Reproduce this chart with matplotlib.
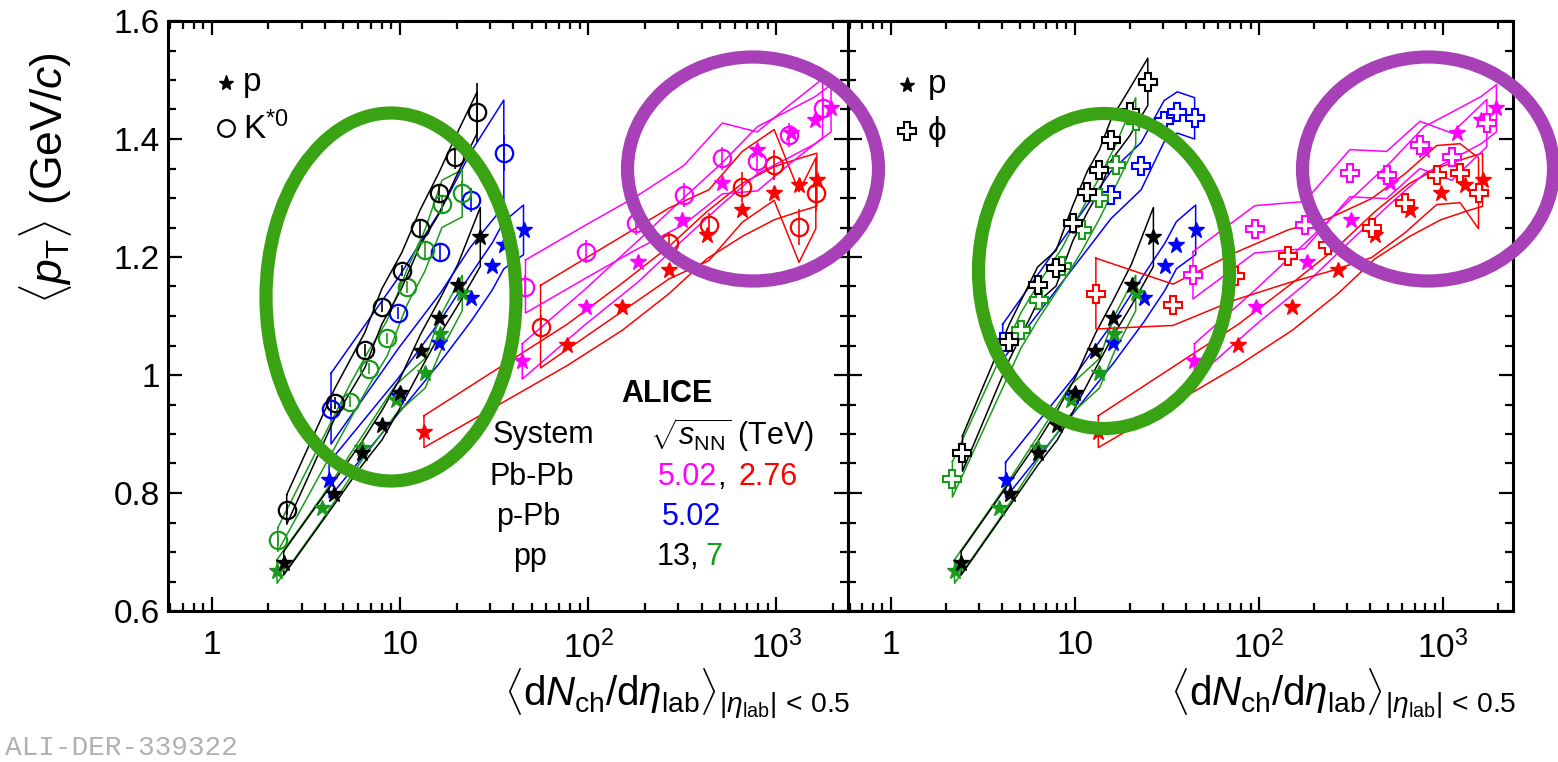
import matplotlib
matplotlib.use("Agg")
import matplotlib.pyplot as plt
from matplotlib.patches import Ellipse
from matplotlib.ticker import FixedLocator, NullFormatter, MultipleLocator

plt.rcParams['font.family'] = ['Liberation Sans', 'DejaVu Sans']
plt.rcParams['mathtext.fontset'] = 'custom'
plt.rcParams['mathtext.rm'] = 'Liberation Sans'
plt.rcParams['mathtext.it'] = 'Liberation Sans:italic'
plt.rcParams['mathtext.bf'] = 'Liberation Sans:bold'

W, H = 1558, 762

# colours per system
c_pp13 = "black"
c_pp7 = "#1a9a1a"
c_ppb = "#0000ff"
c_pb502 = "#ff00ff"
c_pb276 = "#ff0000"

# ---- protons (same in both panels) ----
pp13_p_x = [2.41, 4.44, 6.28, 8.02, 10.0, 12.9, 16.1, 20.3, 26.7]
pp13_p_y = [0.681, 0.799, 0.867, 0.915, 0.969, 1.040, 1.096, 1.153, 1.234]
pp13_p_sys = [0.02, 0.02, 0.02, 0.025, 0.025, 0.03, 0.03, 0.035, 0.05]

pp7_p_x = [2.22, 3.85, 6.28, 9.47, 13.6, 16.4, 21.4]
pp7_p_y = [0.667, 0.774, 0.876, 0.958, 1.003, 1.070, 1.139]
pp7_p_sys = [0.02, 0.02, 0.02, 0.025, 0.025, 0.03, 0.03]

ppb_p_x = [4.2, 9.8, 16.1, 23.7, 30.9, 35.6, 45.3]
ppb_p_y = [0.822, 0.965, 1.054, 1.130, 1.184, 1.220, 1.246]
ppb_p_sys = [0.03, 0.03, 0.035, 0.04, 0.04, 0.04, 0.042]

pb502_p_x = [44.6, 96.8, 183, 316, 516, 792, 1190, 1610, 1950]
pb502_p_y = [1.023, 1.116, 1.192, 1.263, 1.325, 1.381, 1.410, 1.432, 1.452]
pb502_p_sys = [0.03, 0.03, 0.035, 0.035, 0.035, 0.04, 0.04, 0.04, 0.04]

pb276_p_x = [13.4, 77.3, 152, 269, 427, 659, 972, 1318, 1640]
pb276_p_y = [0.904, 1.051, 1.116, 1.178, 1.237, 1.280, 1.308, 1.322, 1.331]
pb276_p_sys = [0.027, 0.035, 0.04, 0.04, 0.04, 0.045, 0.045, 0.045, 0.045]

# ---- K*0 (left panel) ----
pp13_k_x = [2.5, 4.5, 6.5, 8.0, 10.2, 12.8, 16.1, 19.7, 25.7]
pp13_k_y = [0.772, 0.952, 1.042, 1.116, 1.177, 1.250, 1.308, 1.369, 1.445]
pp13_k_sys = [0.025, 0.025, 0.03, 0.03, 0.03, 0.03, 0.035, 0.035, 0.035]
pp13_k_stat = [0.01, 0.01, 0.01, 0.01, 0.01, 0.015, 0.015, 0.02, 0.05]

pp7_k_x = [2.24, 5.44, 6.81, 8.53, 10.9, 13.6, 16.7, 21.4]
pp7_k_y = [0.721, 0.955, 1.011, 1.062, 1.149, 1.212, 1.290, 1.308]
pp7_k_sys = [0.02, 0.03, 0.03, 0.03, 0.03, 0.035, 0.04, 0.04]
pp7_k_stat = [0.01, 0.01, 0.01, 0.01, 0.01, 0.015, 0.015, 0.02]

ppb_k_x = [4.3, 9.8, 16.4, 23.7, 35.6]
ppb_k_y = [0.943, 1.105, 1.209, 1.297, 1.376]
ppb_k_sys = [0.06, 0.06, 0.07, 0.08, 0.09]
ppb_k_stat = [0.01, 0.01, 0.015, 0.02, 0.03]

pb502_k_x = [46.4, 96.8, 178.6, 322, 516, 792, 1167, 1758]
pb502_k_y = [1.150, 1.209, 1.257, 1.305, 1.367, 1.362, 1.407, 1.452]
pb502_k_sys = [0.045, 0.045, 0.045, 0.05, 0.06, 0.05, 0.05, 0.05]
pb502_k_stat = [0.02, 0.02, 0.02, 0.02, 0.02, 0.02, 0.02, 0.02]

pb276_k_x = [55.8, 269, 438, 659, 972, 1318, 1619]
pb276_k_y = [1.082, 1.223, 1.254, 1.319, 1.356, 1.251, 1.308]
pb276_k_sys = [0.07, 0.06, 0.06, 0.06, 0.06, 0.06, 0.06]
pb276_k_stat = [0.02, 0.02, 0.02, 0.025, 0.025, 0.03, 0.03]

# ---- phi (right panel) ----
pp13_phi_x = [2.45, 4.4, 6.27, 7.9, 9.73, 11.7, 13.6, 15.7, 19.8, 24.9]
pp13_phi_y = [0.867, 1.056, 1.153, 1.181, 1.257, 1.311, 1.347, 1.398, 1.445, 1.497]
pp13_phi_sys = [0.03, 0.03, 0.03, 0.03, 0.03, 0.035, 0.035, 0.035, 0.04, 0.04]

pp7_phi_x = [2.16, 5.1, 6.4, 8.5, 10.9, 13.6, 16.7, 21.4]
pp7_phi_y = [0.823, 1.076, 1.127, 1.185, 1.245, 1.300, 1.356, 1.430]
pp7_phi_sys = [0.03, 0.03, 0.03, 0.03, 0.035, 0.035, 0.035, 0.04]

ppb_phi_x = [4.05, 15.7, 22.9, 30.5, 36.0, 44.7]
ppb_phi_y = [1.056, 1.305, 1.354, 1.430, 1.445, 1.435]
ppb_phi_sys = [0.03, 0.04, 0.04, 0.035, 0.035, 0.035]

pb502_phi_x = [43.8, 94.9, 177, 312, 494, 750, 1117, 1730]
pb502_phi_y = [1.169, 1.247, 1.254, 1.342, 1.339, 1.390, 1.370, 1.427]
pb502_phi_sys = [0.04, 0.04, 0.04, 0.04, 0.04, 0.04, 0.04, 0.04]

pb276_phi_x = [13.0, 34.1, 73.8, 144, 238, 409, 621, 925, 1239, 1559]
pb276_phi_y = [1.138, 1.119, 1.167, 1.201, 1.220, 1.249, 1.291, 1.339, 1.342, 1.308]
pb276_phi_sys = [0.06, 0.035, 0.04, 0.045, 0.045, 0.05, 0.05, 0.05, 0.05, 0.06]

y_ticks = [0.6, 0.8, 1.0, 1.2, 1.4, 1.6]
y_ticklabels = ["0.6", "0.8", "1", "1.2", "1.4", "1.6"]
x_ticks = [1, 10, 100, 1000]
x_ticklabels = ["1", "10", r"$10^2$", r"$10^3$"]


def band(ax, x, y, s, color):
    # open systematic-uncertainty box around the points
    up = [yi + si for yi, si in zip(y, s)]
    lo = [yi - si for yi, si in zip(y, s)]
    xs = list(x) + list(x)[::-1] + [x[0]]
    ys = up + lo[::-1] + [up[0]]
    ax.plot(xs, ys, color=color, lw=1.1, zorder=2)


def stars(ax, x, y, color):
    ax.plot(x, y, ls="none", marker="*", ms=12, color=color, mec=color, zorder=4)


def circles(ax, x, y, err, color):
    ax.errorbar(x, y, yerr=err, ls="none", marker="o", ms=12.5, mfc="none",
                mec=color, mew=1.6, ecolor=color, elinewidth=1.2, capsize=0, zorder=5)


def crosses(ax, x, y, color):
    ax.plot(x, y, ls="none", marker="P", ms=13, mfc="white", mec=color, mew=1.5,
            color=color, zorder=5)


def style(ax, labels_y):
    ax.set_xscale("log")
    ax.set_xlim(0.585, 2400)
    ax.set_ylim(0.6, 1.6)
    ax.xaxis.set_major_locator(FixedLocator(x_ticks))
    ax.set_xticklabels(x_ticklabels)
    minors = [m * 10 ** e for e in range(-1, 4) for m in range(2, 10)]
    ax.xaxis.set_minor_locator(FixedLocator(minors))
    ax.xaxis.set_minor_formatter(NullFormatter())
    ax.yaxis.set_major_locator(FixedLocator(y_ticks))
    ax.yaxis.set_minor_locator(MultipleLocator(0.05))
    ax.tick_params(which="both", direction="in", top=True, right=True, width=1.6)
    ax.tick_params(which="major", length=10)
    ax.tick_params(which="minor", length=6)
    ax.tick_params(axis="x", labelsize=24, pad=14)
    ax.tick_params(axis="y", labelsize=24, pad=6, labelleft=labels_y)
    if labels_y:
        ax.set_yticklabels(y_ticklabels)
    for sp in ax.spines.values():
        sp.set_linewidth(2.2)


fig = plt.figure(figsize=(W / 100, H / 100), dpi=100)
ax1 = fig.add_axes([168 / W, (H - 611) / H, 680 / W, 590 / H])
ax2 = fig.add_axes([848 / W, (H - 611) / H, 665 / W, 590 / H])
style(ax1, True)
style(ax2, False)

proton_sets = [
    (pb276_p_x, pb276_p_y, pb276_p_sys, c_pb276),
    (pb502_p_x, pb502_p_y, pb502_p_sys, c_pb502),
    (ppb_p_x, ppb_p_y, ppb_p_sys, c_ppb),
    (pp7_p_x, pp7_p_y, pp7_p_sys, c_pp7),
    (pp13_p_x, pp13_p_y, pp13_p_sys, c_pp13),
]

kstar_sets = [
    (pb276_k_x, pb276_k_y, pb276_k_sys, pb276_k_stat, c_pb276),
    (pb502_k_x, pb502_k_y, pb502_k_sys, pb502_k_stat, c_pb502),
    (ppb_k_x, ppb_k_y, ppb_k_sys, ppb_k_stat, c_ppb),
    (pp7_k_x, pp7_k_y, pp7_k_sys, pp7_k_stat, c_pp7),
    (pp13_k_x, pp13_k_y, pp13_k_sys, pp13_k_stat, c_pp13),
]

phi_sets = [
    (pb276_phi_x, pb276_phi_y, pb276_phi_sys, c_pb276),
    (pb502_phi_x, pb502_phi_y, pb502_phi_sys, c_pb502),
    (ppb_phi_x, ppb_phi_y, ppb_phi_sys, c_ppb),
    (pp7_phi_x, pp7_phi_y, pp7_phi_sys, c_pp7),
    (pp13_phi_x, pp13_phi_y, pp13_phi_sys, c_pp13),
]

for ax in (ax1, ax2):
    for x, y, s, c in proton_sets:
        band(ax, x, y, s, c)
        stars(ax, x, y, c)

for x, y, s, e, c in kstar_sets:
    band(ax1, x, y, s, c)
    circles(ax1, x, y, e, c)

for x, y, s, c in phi_sets:
    band(ax2, x, y, s, c)
    crosses(ax2, x, y, c)

# legends inside the panels
ax1.plot([0.086], [0.895], transform=ax1.transAxes, marker="*", ms=11, color="black", ls="none")
ax1.text(0.11, 0.895, "p", transform=ax1.transAxes, fontsize=24, va="center")
ax1.plot([0.086], [0.818], transform=ax1.transAxes, marker="o", ms=12, mfc="none",
         mec="black", mew=1.6, ls="none")
ax1.text(0.11, 0.818, r"K$^{*0}$", transform=ax1.transAxes, fontsize=24, va="center")

ax2.plot([0.088], [0.892], transform=ax2.transAxes, marker="*", ms=11, color="black", ls="none")
ax2.text(0.12, 0.892, "p", transform=ax2.transAxes, fontsize=24, va="center")
ax2.plot([0.088], [0.813], transform=ax2.transAxes, marker="P", ms=13, mfc="white",
         mec="black", mew=1.5, ls="none")
ax2.text(0.12, 0.813, "ϕ", transform=ax2.transAxes, fontsize=24, va="center")


def ftext(px, py, s, **kw):
    fig.text(px / W, 1 - py / H, s, **kw)


fs = 22
ftext(667, 394, "ALICE", fontsize=fs, fontweight="bold", ha="center", va="center")
ftext(493, 435, "System", fontsize=fs, va="center")
ftext(650, 435, r"$\sqrt{s_{\rm NN}}$ (TeV)", fontsize=fs, va="center")
ftext(490, 477, "Pb-Pb", fontsize=fs, va="center")
ftext(658, 477, "5.02", fontsize=fs, va="center", color=c_pb502)
ftext(717, 477, ",", fontsize=fs, va="center")
ftext(738, 477, "2.76", fontsize=fs, va="center", color=c_pb276)
ftext(496, 517, "p-Pb", fontsize=fs, va="center")
ftext(662, 517, "5.02", fontsize=fs, va="center", color=c_ppb)
ftext(513, 557, "pp", fontsize=fs, va="center")
ftext(657, 557, "13,", fontsize=fs, va="center")
ftext(705, 557, "7", fontsize=fs, va="center", color=c_pp7)

# axis titles
ftext(45, 178, r"$\langle p_{\rm T}\rangle$ (GeV/$c$)", fontsize=32, rotation=90,
      ha="center", va="center")
xlab = r"$\langle{\rm d}N_{\rm ch}/{\rm d}\eta_{\rm lab}\rangle_{|\eta_{\rm lab}|\,<\,0.5}$"
ftext(850, 706, xlab, fontsize=29, ha="right", va="baseline")
ftext(1516, 706, xlab, fontsize=29, ha="right", va="baseline")

ftext(5, 748, "ALI-DER-339322", fontsize=20, family="Liberation Mono",
      color="#b0b0b0", va="center")


# highlight rings
def ring(cx, cy, w, h, color):
    fig.add_artist(Ellipse((cx / W, 1 - cy / H), w / W, h / H, transform=fig.transFigure,
                           fill=False, ec=color, lw=9.5, zorder=10))


ring(391, 297, 250, 368, "#3aa314")
ring(1104, 271, 251, 315, "#3aa314")
ring(753, 169, 251, 224, "#a840b8")
ring(1428, 169, 251, 224, "#a840b8")

fig.savefig("out.png", dpi=100)
